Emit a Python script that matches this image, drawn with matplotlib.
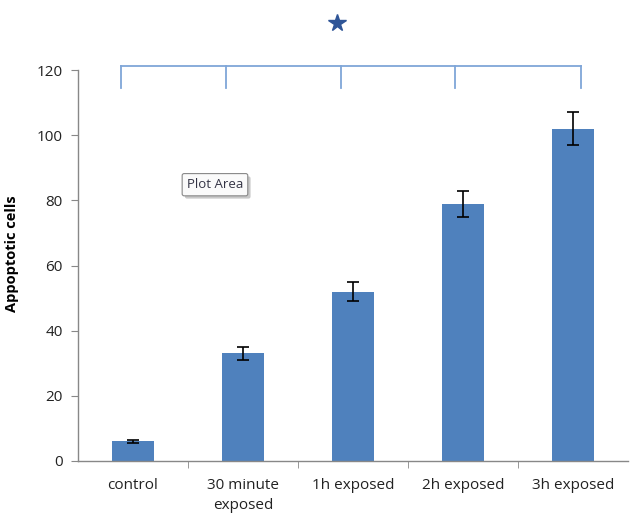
import matplotlib
matplotlib.use("Agg")
import matplotlib.pyplot as plt
import matplotlib.patheffects as pe
import numpy as np

categories = ["control", "30 minute\nexposed", "1h exposed", "2h exposed", "3h exposed"]
values = [6, 33, 52, 79, 102]
errors = [0.5, 2, 3, 4, 5]
bracket_x = [-0.11, 0.845, 1.89, 2.93, 4.07]
bracket_top = 121.2
bracket_bottom = 114.4
star_x, star_y = 1.85, 134.5

plt.rcParams['font.family'] = ['Open Sans', 'DejaVu Sans']

fig = plt.figure(figsize=(6.38, 5.13), dpi=100)
ax = fig.add_axes([0.1223, 0.1014, 0.862, 0.7621])

x = np.arange(len(categories))
ax.bar(x, values, width=0.39, color="#4F81BD", zorder=2)
ax.errorbar(x, values, yerr=errors, fmt='none', ecolor='black', elinewidth=1.2,
            capsize=4, capthick=1.2, zorder=3)

ax.set_xlim(-0.5, 4.5)
ax.set_ylim(0, 120)
ax.set_yticks(np.arange(0, 121, 20))
ax.set_xticks(x)
ax.set_xticklabels(categories, fontsize=11, color="#222222", linespacing=1.45)
ax.set_xticks(np.arange(0.5, 4.0, 1.0), minor=True)
ax.tick_params(axis='x', which='major', length=0, pad=12)
ax.tick_params(axis='x', which='minor', length=5, color="#888888", direction='out')
ax.tick_params(axis='y', length=5, color="#888888", direction='out', labelsize=11,
               labelcolor="#222222", pad=6)

for s in ['top', 'right']:
    ax.spines[s].set_visible(False)
for s in ['left', 'bottom']:
    ax.spines[s].set_color("#888888")
    ax.spines[s].set_linewidth(1.0)

ax.set_ylabel("Appoptotic cells", fontsize=10.5, fontweight='bold')
ax.yaxis.set_label_coords(-0.107, 0.53)

# significance bracket
bc = "#7FA6D8"
ax.plot([bracket_x[0], bracket_x[-1]], [bracket_top, bracket_top], color=bc, lw=1.3,
        clip_on=False)
for bx in bracket_x:
    ax.plot([bx, bx], [bracket_bottom, bracket_top], color=bc, lw=1.3, clip_on=False)
ax.plot([star_x], [star_y], marker='*', markersize=13, color="#2F5597", clip_on=False)

# "Plot Area" tooltip
t = ax.text(0.745, 84.8, "Plot Area", fontsize=9.5, color="#333344", ha='center', va='center',
            bbox=dict(boxstyle='round,pad=0.35,rounding_size=0.15', facecolor='#FAFAFA',
                      edgecolor='#888888', linewidth=0.8), zorder=5)
t.get_bbox_patch().set_path_effects([pe.SimplePatchShadow(offset=(2, -2), alpha=0.3),
                                     pe.Normal()])

fig.savefig("out.png", dpi=100)
